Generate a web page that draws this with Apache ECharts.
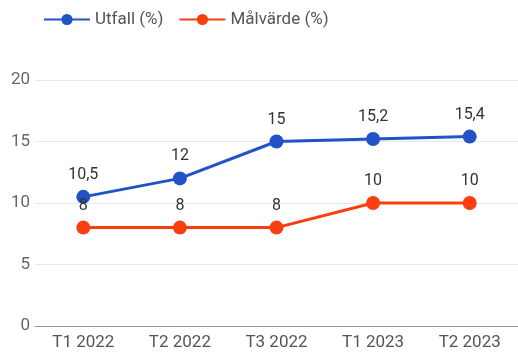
<!DOCTYPE html>
<html><head><meta charset="utf-8">
<script src="https://cdn.jsdelivr.net/npm/echarts@6/dist/echarts.min.js"></script>
<style>html,body{margin:0;padding:0;background:#fff}#c{width:518px;height:356px}</style>
</head><body><div id="c"></div>
<script>
const categories = ['T1 2022','T2 2022','T3 2022','T1 2023','T2 2023'];
const utfall = [10.5, 12, 15, 15.2, 15.4];
const malvarde = [8, 8, 8, 10, 10];
const yTicks = [0, 5, 10, 15, 20];
const seriesNames = ['Utfall (%)', 'Målvärde (%)'];

const fmt = p => String(p.value).replace('.', ',');
const chart = echarts.init(document.getElementById('c'));
chart.setOption({
  animation: false,
  textStyle: { fontFamily: 'Roboto' },
  legend: {
    left: 38, top: 6, padding: [5, 5, 5, 5], itemWidth: 46, itemHeight: 14, itemGap: 15,
    textStyle: { fontSize: 17, color: '#555' },
    data: seriesNames
  },
  grid: { left: 35, width: 488, top: 80, bottom: 30 },
  xAxis: {
    type: 'category', data: categories, boundaryGap: true,
    axisLine: { lineStyle: { color: '#999', width: 1 } },
    axisTick: { show: false },
    axisLabel: { fontSize: 17, color: '#555', margin: 8 }
  },
  yAxis: {
    type: 'value', min: yTicks[0], max: yTicks[yTicks.length-1], interval: 5,
    axisLine: { show: false }, axisTick: { show: false },
    axisLabel: { fontSize: 17, color: '#666', margin: 5 },
    splitLine: { lineStyle: { color: '#e8e8e8' } }
  },
  series: [
    { name: seriesNames[0], type: 'line', data: utfall, symbol: 'circle', symbolSize: 14,
      lineStyle: { width: 3, color: '#2152c8' }, itemStyle: { color: '#2152c8' },
      label: { show: true, position: 'top', distance: 7, fontSize: 16, color: '#333', formatter: fmt } },
    { name: seriesNames[1], type: 'line', data: malvarde, symbol: 'circle', symbolSize: 14,
      lineStyle: { width: 3, color: '#fb3e0f' }, itemStyle: { color: '#fb3e0f' },
      label: { show: true, position: 'top', distance: 7, fontSize: 16, color: '#333', formatter: fmt } }
  ]
});
</script></body></html>
